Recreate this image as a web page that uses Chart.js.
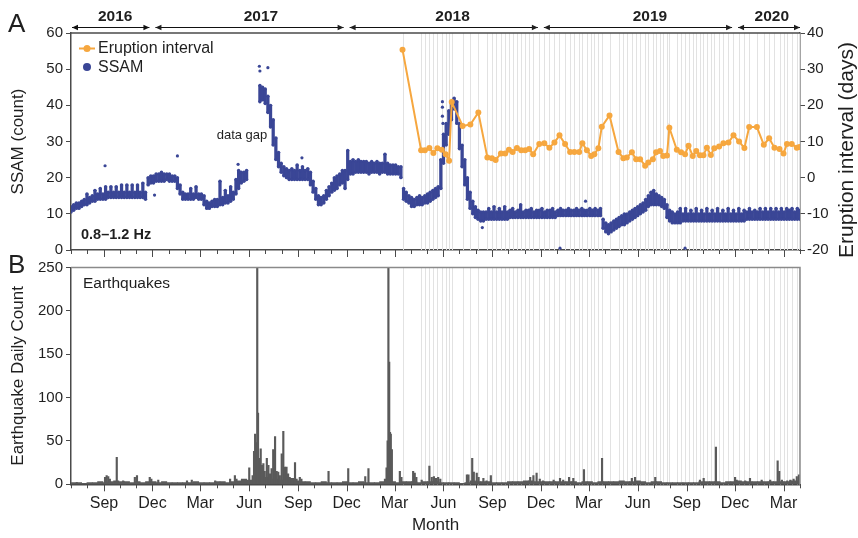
<!DOCTYPE html>
<html>
<head>
<meta charset="utf-8">
<script src="https://cdn.jsdelivr.net/npm/chart.js@4.4.1/dist/chart.umd.min.js"></script>
<style>
  html, body { margin: 0; padding: 0; background: #fff; }
  #wrap { position: relative; width: 858px; height: 538px; }
  canvas { position: absolute; left: 0; }
</style>
</head>
<body>
<div id="wrap">
  <canvas id="ssam" width="858" height="262" style="top:0"></canvas>
  <canvas id="quakes" width="858" height="288" style="top:250px"></canvas>
</div>
<script>
// day numbers count from 1 Jul 2016 (day 0) to 1 Apr 2020 (day 1370)
const monthDays = [0,31,62,92,123,153,184,215,243,274,304,335,365,396,427,457,488,518,549,580,608,639,669,700,
  730,761,792,822,853,883,914,945,973,1004,1034,1065,1095,1126,1157,1187,1218,1248,1279,1310,1339,1370];
const quarterDays = [62,153,243,335,427,518,608,700,792,883,973,1065,1157,1248,1339];
const quarterLabels = ['Sep','Dec','Mar','Jun','Sep','Dec','Mar','Jun','Sep','Dec','Mar','Jun','Sep','Dec','Mar'];

const yearLabels = ['2016','2017','2018','2019','2020'];
const yearFrom = [0, 153, 518, 883, 1248];
const yearTo = [153, 518, 883, 1248, 1370];
const yearLabelDay = [83, 357, 717, 1088, 1317];

// SSAM 0.8-1.2 Hz, low / high edge of the band every 5 days
const SSAM_STEP = 5;
const ssamLo = [
  10.5,11,11.5,11.5,12,12.5,12.5,13,13.5,13.5,
  14,14,14,14,14.5,14.5,14.5,14.5,14.5,14.5,
  14.5,14.5,14.5,14.5,14.5,14.5,14.5,14.5,14,18,
  18.5,18.5,19,19,19,19,19.5,19,19,19,
  17,15.5,14,14,14,14,14,14.5,14,14,
  12.5,11.5,11.5,12,12,12,12.5,12.5,13,13,
  13.5,14,15.5,17,18.5,19,19.5,null,null,null,
  null,41,41.5,40.5,38,34,29,25,23,21.5,
  20.5,20,19.5,19.5,19.5,19.5,19.5,19.5,19.5,19.5,
  18,16,14,12.5,12.5,13,14,15,16,16.5,
  17,18,18.5,17,19.5,21,21,21.5,21.5,21.5,
  21.5,21.5,21,21.5,21.5,21.5,21,21.5,21.5,21,
  21,21,21,21,20,14,13.5,13,12,12,
  12.5,12.5,12.5,13,13,13.5,14,14.5,15,17,
  24,29,32,36,39,35,28,23,18,14,
  11.5,10,9,8.5,8,8,8.5,8.5,8.5,8.5,
  8.5,8.5,8.5,8.5,8.5,9,9,9,9,9,
  9,9,9,9,9,9,9,9,9,9,
  9,9,9,9.5,9.5,9.5,9.5,9.5,9.5,9.5,
  9.5,9.5,9.5,9.5,9.5,9.5,9.5,9.5,9.5,9.5,
  6,5,4.5,5,5.5,6,6.5,7,7,7.5,
  8,8.5,9,9.5,10,10.5,11,12,12.5,12.5,
  12.5,12.5,12,11.5,9,8,7.5,7.5,7.5,7.5,
  8,8,8,8,8,8,8,8,8,8,
  8,8,8,8,8,8,8,8,8,8,
  8,8,8,8,8.5,8.5,8.5,8.5,8.5,8.5,
  8.5,8.5,8.5,8.5,8.5,8.5,8.5,8.5,8.5,8.5,
  8.5,8.5,8.5,8.5,8.5
];
const ssamHi = [
  12,12.5,13,13,13.5,14,15.5,14.5,15,16.5,
  15.5,17,15.5,17.5,16,17.5,16,17.5,16,18,
  16,18,16,18,16,18,16,18.5,16,20,
  20.5,20.5,21,21,21.5,21,21,21,20.5,20.5,
  20,18,16,15.5,15.5,17,15.5,17.5,15.5,15.5,
  15,13.5,13,13.5,14,14,19,14.5,16.5,15,
  17.5,16,19.5,22,21.5,21.5,22,null,null,null,
  null,45.5,45,44.5,42.5,40,36,31,27,24,
  23,22.5,22,22.5,22,23.5,22,23,22,22.5,
  21.5,19,17,15,14.5,15,16.5,17.5,18.5,20,
  20.5,21,22,22,27.5,24.5,25,24.5,25,24.5,
  24.5,24.5,24,24.5,24,24.5,24,24,26.5,24,
  23.5,23.5,23.5,23,23,17,16,15,14.5,14,
  14.5,15,14.5,15,15.5,16,16.5,17,17.5,25,
  32,35,38.5,41,42,41,35,29,25,20,
  16,13.5,12,11,10.5,10.5,10.5,11.5,10.5,12,
  10.5,11.5,10.5,12,10.5,11,11.5,10.5,11,12.5,
  10.5,11,11,11.5,10.5,11,11,11.5,10.5,11,
  11,11.5,10.5,11,11.5,11,11,11.5,11,11,
  11.5,11,11.5,11,11,11.5,11,11.5,11,11.5,
  8.5,7.5,7,7.5,8,8.5,9,9.5,10,10,
  10.5,11,11.5,12,12.5,13,14,15,16,16.5,
  15.5,15,14.5,14,12.5,11,10.5,10,10.5,11.5,
  10,11.5,10,11,10,11.5,10,11,10,11.5,
  10,11,10,11.5,10,11,10,11.5,10,11,
  10,11.5,10,11,10.5,11.5,10.5,11,10.5,11.5,
  10.5,11.5,10.5,11.5,10.5,11.5,10.5,11.5,10.5,11.5,
  11,11.5,10.5,11.5,11
];
// isolated SSAM samples away from the band
const ssamOutlierDays = [64,157,200,314,354,355,370,434,698,698,698,699,773,919,967,1154];
const ssamOutlierVals = [23.3,15.2,26,23.7,50.8,49.5,50.4,25.5,41,39.5,37,35,6.2,0.5,13.5,0.5];

// eruptions of 2018-2020 and the interval (days) plotted at each
const eruptionDays = [623,658,665,673.5,681,688.5,697,704,710.5,715.5,736,750.5,765.5,782.5,791,798,808,816,823,830,
  838,846,853.5,861,868.5,880,889.5,899,908.5,918,928.5,938,946,955,961,969.5,977.5,983.5,991,997.5,
  1012,1029,1038,1044.5,1054,1062,1069.5,1079,1085,1093.5,1099.5,1107,1113,1120,1124.5,1138.5,1146.5,1154,1160.5,1168.5,
  1175,1182,1188.5,1195,1202.5,1209,1218,1226,1235.5,1245,1255.5,1265.5,1274.5,1289,1302,1312,1322,1331.5,1339,1345.5,
  1354.5,1364,1369];
const eruptionInterval = [35.4,7.6,7.6,8.2,6.8,8.1,7.7,6.5,4.7,20.9,14.3,14.7,18,5.6,5.4,4.9,6.7,6.7,7.7,7.1,
  8.2,7.6,7.6,7.9,6.5,9.3,9.5,8.3,9.7,11.7,9.3,7.1,7.1,7.1,9.5,7.6,6,6.5,8.1,14.1,
  17.2,7.1,5.4,5.6,7,5.1,5.1,3.3,4.2,5.1,7,7.4,6,6.1,13.8,7.7,7,6.5,8.8,6,
  7.4,6.2,6.2,8.3,6.3,8.1,8.6,9.5,9.7,11.7,10,8.2,14,14,9.1,10.9,8.3,7.9,6.7,9.3,
  9.3,8.3,8.5];

// earthquakes: background level in 10-day bins, plus individual days that stand out
const QUAKE_BIN = 10;
const quakeBackground = [
  2,2,1,2,2,3,2,3,4,3, 3,2,3,2,3,3,2,3,2,2, 2,2,2,3,2,2,2,3,3,2, 3,4,6,5,10,12,8,6,6,5,
  8,7,4,3,3,2,2,3,2,2, 2,3,2,2,3,2,2,2,3,3, 3,2,3,3,3,2,3,3,3,2, 2,2,2,1,2,4,3,3,3,2,
  2,2,3,3,3,4,4,3,3,3, 3,3,3,3,3,2,3,3,2,3, 3,3,3,4,3,3,4,3,2,3, 3,2,2,2,2,2,2,2,3,3,
  3,3,2,3,3,4,3,3,3,3, 3,3,3,3,3,4,4
];
const quakeDays = [11,64,67,70,73,86,98,120,124,148,151,164,218,227,271,299,308,311,335,344,346,348,350,351.5,354,
  356.5,359,361.5,364,368,371,374,377,380,383.5,386.5,389.5,392.5,396,399,402,405,408,411,414,421,424,430,433,
  484,521,553,559,590,593,595,596.5,598,599.5,601,603,618,621,643,646,649,659,673.5,678,682,686,690,694,
  744,747,754,757,762.5,766,775,781,789,863,869,875,881,887,907,919,925,936,944,964,998,1054,1060,1098,
  1182,1189,1212,1248,1251,1267,1276,1298,1314,1328,1331,1336,1346,1352,1358,1364,1368];
const quakeCounts = [2,8,10,9,6,31,4,8,10,8,6,5,4,5,4,6,10,6,19,38,58,48,250,82,30,
  41,22,24,15,30,22,12,18,40,55,15,14,10,35,61,20,20,12,8,6,25,6,8,6,
  15,18,9,18,6,19,50,250,141,60,58,40,15,8,15,13,8,5,21,8,9,7,8,6,
  11,11,30,14,13,8,7,4,10,8,10,13,6,4,5,7,5,8,7,17,30,7,8,8,
  5,7,43,8,5,4,7,5,5,27,15,5,4,5,6,9,11];

const FONT = '"Liberation Sans", Arial, Helvetica, sans-serif';
const INK = '#1f1f1f';
const AXIS = '#4a4a4a';
const BLUE = '#3a4696';
const ORANGE = '#f6a73f';
const QUAKE = '#5a5a5a';
Chart.defaults.font.family = FONT;
Chart.defaults.color = INK;

function monthTicks(scale) {
  scale.ticks = monthDays.map(v => ({ value: v }));
}
function quarterLabel(v) {
  const i = quarterDays.indexOf(v);
  return i < 0 ? '' : quarterLabels[i];
}

function drawEruptions(chart) {
  const { ctx, chartArea: a, scales: { x } } = chart;
  ctx.save();
  ctx.strokeStyle = '#e2e2e2';
  ctx.lineWidth = 1;
  eruptionDays.forEach(d => {
    const px = Math.round(x.getPixelForValue(d)) + 0.5;
    ctx.beginPath();
    ctx.moveTo(px, a.top);
    ctx.lineTo(px, a.bottom);
    ctx.stroke();
  });
  ctx.restore();
}

function drawMonthTicks(chart) {
  const { ctx, chartArea: a, scales: { x } } = chart;
  ctx.save();
  ctx.strokeStyle = AXIS;
  ctx.lineWidth = 1;
  monthDays.forEach(d => {
    const px = Math.round(x.getPixelForValue(d)) + 0.5;
    const len = quarterDays.includes(d) ? 7 : 4;
    ctx.beginPath();
    ctx.moveTo(px, a.bottom);
    ctx.lineTo(px, a.bottom + len);
    ctx.stroke();
  });
  ctx.restore();
}

function text(ctx, str, x, y, font, align, base) {
  ctx.font = font;
  ctx.textAlign = align || 'left';
  ctx.textBaseline = base || 'middle';
  ctx.fillStyle = INK;
  ctx.fillText(str, x, y);
}

function arrowHead(ctx, x, y, dir) {
  ctx.beginPath();
  ctx.moveTo(x, y);
  ctx.lineTo(x - dir * 6, y - 2.8);
  ctx.lineTo(x - dir * 6, y + 2.8);
  ctx.closePath();
  ctx.fill();
}

const panelA = {
  id: 'panelA',
  beforeDatasetsDraw: drawEruptions,
  afterDraw(chart) {
    const { ctx, chartArea: a, scales: { x } } = chart;
    ctx.save();
    // top frame line
    ctx.strokeStyle = AXIS;
    ctx.lineWidth = 1.5;
    ctx.beginPath();
    ctx.moveTo(a.left, a.top);
    ctx.lineTo(a.right, a.top);
    ctx.stroke();
    drawMonthTicks(chart);

    // year spans
    ctx.strokeStyle = '#111';
    ctx.fillStyle = '#111';
    ctx.lineWidth = 1.2;
    yearLabels.forEach((lab, i) => {
      const x0 = x.getPixelForValue(yearFrom[i]) + (i === 0 ? 1 : 3);
      const x1 = x.getPixelForValue(yearTo[i]) - (i === yearLabels.length - 1 ? 0 : 3);
      const y = 27.5;
      ctx.beginPath();
      ctx.moveTo(x0, y);
      ctx.lineTo(x1, y);
      ctx.stroke();
      arrowHead(ctx, x0, y, -1);
      arrowHead(ctx, x1, y, 1);
      text(ctx, lab, x.getPixelForValue(yearLabelDay[i]), 16.5, 'bold 15.5px ' + FONT, 'center');
    });

    // legend
    ctx.strokeStyle = ORANGE;
    ctx.fillStyle = ORANGE;
    ctx.lineWidth = 2;
    ctx.beginPath();
    ctx.moveTo(79, 48.5);
    ctx.lineTo(95, 48.5);
    ctx.stroke();
    ctx.beginPath();
    ctx.arc(87, 48.5, 3.5, 0, Math.PI * 2);
    ctx.fill();
    ctx.fillStyle = BLUE;
    ctx.beginPath();
    ctx.arc(87, 67, 4, 0, Math.PI * 2);
    ctx.fill();
    text(ctx, 'Eruption interval', 98, 48.5, '16px ' + FONT);
    text(ctx, 'SSAM', 98, 67.5, '16px ' + FONT);

    text(ctx, 'data gap', 242, 135, '13px ' + FONT, 'center');
    text(ctx, '0.8\u20131.2 Hz', 81, 234.5, 'bold 14.5px ' + FONT);
    text(ctx, 'A', 8, 32, '26px ' + FONT, 'left', 'alphabetic');

    // right axis title, read bottom to top
    ctx.translate(847, 150);
    ctx.rotate(-Math.PI / 2);
    text(ctx, 'Eruption interval (days)', 0, 0, '21px ' + FONT, 'center');
    ctx.restore();
  }
};

const panelB = {
  id: 'panelB',
  beforeDatasetsDraw: drawEruptions,
  afterDraw(chart) {
    const { ctx, chartArea: a } = chart;
    ctx.save();
    ctx.strokeStyle = '#8a8a8a';
    ctx.lineWidth = 1.5;
    ctx.beginPath();
    ctx.moveTo(a.left, a.top);
    ctx.lineTo(a.right, a.top);
    ctx.lineTo(a.right, a.bottom);
    ctx.stroke();
    drawMonthTicks(chart);
    text(ctx, 'Earthquakes', 83, a.top + 16.5, '15.5px ' + FONT);
    text(ctx, 'B', 8, 22.5, '26px ' + FONT, 'left', 'alphabetic');
    ctx.restore();
  }
};

const xCommon = {
  type: 'linear',
  min: 0,
  max: 1370,
  offset: false,
  afterBuildTicks: monthTicks,
  grid: { display: true, drawOnChartArea: false, drawTicks: true, tickLength: 7, tickColor: 'transparent' },
  border: { display: true, color: AXIS, width: 1.5 }
};

const ssamBand = ssamLo.map((lo, i) => ({ x: i * SSAM_STEP, y: lo === null ? null : [lo, ssamHi[i]] }));
const ssamEdges = [];
ssamLo.forEach((lo, i) => {
  if (lo === null) return;
  ssamEdges.push({ x: i * SSAM_STEP, y: lo }, { x: i * SSAM_STEP, y: ssamHi[i] });
});

new Chart(document.getElementById('ssam'), {
  data: {
    datasets: [
      {
        type: 'line',
        yAxisID: 'y1',
        data: eruptionDays.map((d, i) => ({ x: d, y: eruptionInterval[i] })),
        borderColor: ORANGE,
        backgroundColor: ORANGE,
        borderWidth: 2,
        pointRadius: 3,
        pointBorderWidth: 0,
        order: 0
      },
      {
        type: 'scatter',
        yAxisID: 'y',
        data: ssamOutlierDays.map((d, i) => ({ x: d, y: ssamOutlierVals[i] })),
        backgroundColor: BLUE,
        borderWidth: 0,
        pointRadius: 1.6,
        order: 1
      },
      {
        type: 'scatter',
        yAxisID: 'y',
        data: ssamEdges,
        backgroundColor: BLUE,
        borderWidth: 0,
        pointRadius: 1.7,
        order: 2
      },
      {
        type: 'bar',
        yAxisID: 'y',
        data: ssamBand,
        backgroundColor: BLUE,
        borderWidth: 0,
        barThickness: 2.6,
        grouped: false,
        order: 3
      }
    ]
  },
  options: {
    responsive: false,
    animation: false,
    events: [],
    layout: { padding: { top: 33, left: 0, right: 0, bottom: 0 } },
    plugins: { legend: { display: false }, tooltip: { enabled: false } },
    scales: {
      x: Object.assign({}, xCommon, {
        ticks: { display: false },
        afterFit(s) { s.height = 10; }
      }),
      y: {
        position: 'left',
        min: 0,
        max: 60,
        ticks: { stepSize: 10, font: { size: 15 }, color: INK, padding: 3 },
        grid: { drawOnChartArea: false, drawTicks: true, tickLength: 5, tickColor: AXIS },
        border: { color: AXIS, width: 1.5 },
        title: { display: true, text: 'SSAM (count)', font: { size: 17 }, color: INK, padding: { top: 8, bottom: 0 } },
        afterFit(s) { s.width = 71; }
      },
      y1: {
        position: 'right',
        min: -20,
        max: 40,
        ticks: { stepSize: 10, font: { size: 15 }, color: INK, padding: 2 },
        grid: { drawOnChartArea: false, drawTicks: true, tickLength: 5, tickColor: AXIS },
        border: { color: AXIS, width: 1.5 },
        afterFit(s) { s.width = 58; }
      }
    }
  },
  plugins: [panelA]
});

new Chart(document.getElementById('quakes'), {
  data: {
    datasets: [
      {
        type: 'bar',
        data: quakeDays.map((d, i) => ({ x: d, y: quakeCounts[i] })),
        backgroundColor: QUAKE,
        borderWidth: 0,
        barThickness: 1.5,
        grouped: false,
        order: 0
      },
      {
        type: 'bar',
        data: quakeBackground.map((c, i) => ({ x: i * QUAKE_BIN + QUAKE_BIN / 2, y: c })),
        backgroundColor: QUAKE,
        borderWidth: 0,
        barThickness: 5.4,
        grouped: false,
        order: 1
      }
    ]
  },
  options: {
    responsive: false,
    animation: false,
    events: [],
    layout: { padding: { top: 17.5, left: 0, right: 58, bottom: 0 } },
    plugins: { legend: { display: false }, tooltip: { enabled: false } },
    scales: {
      x: Object.assign({}, xCommon, {
        ticks: { display: true, autoSkip: false, maxRotation: 0, font: { size: 16 }, color: INK, padding: 3,
          callback: v => quarterLabel(v) },
        title: { display: true, text: 'Month', font: { size: 17 }, color: INK, padding: { top: 0, bottom: 2 } },
        afterFit(s) { s.height = 53.7; }
      }),
      y: {
        position: 'left',
        min: 0,
        max: 250,
        ticks: { stepSize: 50, font: { size: 15 }, color: INK, padding: 3 },
        grid: { drawOnChartArea: false, drawTicks: true, tickLength: 5, tickColor: AXIS },
        border: { color: AXIS, width: 1.5 },
        title: { display: true, text: 'Earthquake Daily Count', font: { size: 17 }, color: INK, padding: { top: 8, bottom: 0 } },
        afterFit(s) { s.width = 71; }
      }
    }
  },
  plugins: [panelB]
});
</script>
</body>
</html>
